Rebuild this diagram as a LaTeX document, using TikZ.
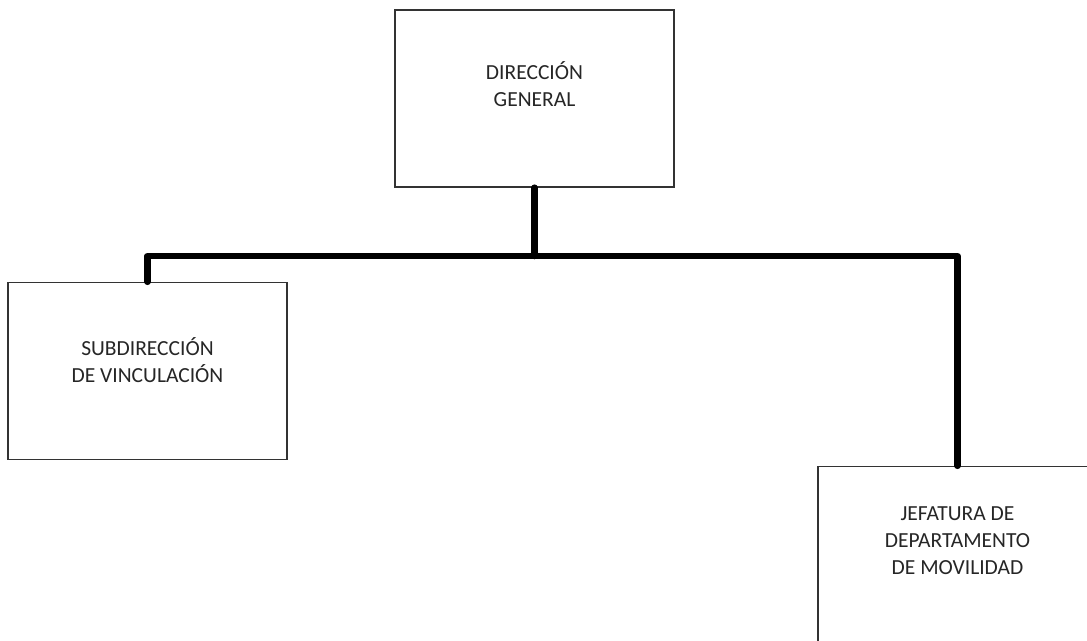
\documentclass[tikz,border=0pt]{standalone}
\usepackage{fontspec}
\setmainfont{Carlito}

\begin{document}
\begin{tikzpicture}[x=1pt, y=-1pt,
    box/.style={draw=black!80, line width=1.4pt, fill=white,
        minimum width=279pt, minimum height=177pt, inner sep=0pt},
    lbl/.style={align=center, text=black!85,
        font=\fontsize{21.5pt}{27pt}\selectfont},
    conn/.style={line width=6.5pt, line join=round, line cap=round}]
    \useasboundingbox (0, 0) rectangle (1087, 640);
    \clip (0, 0) rectangle (1087, 640);
    \fill [white] (0, 0) rectangle (1087, 640);
    \node [box] (dir) at (534.5, 98.5) {};
    \node [box] (sub) at (147.5, 371) {};
    \node [box] (jef) at (957.5, 555) {};
    \node [lbl] (tdir) at ([yshift=14pt]dir.center) {DIRECCIÓN\\GENERAL};
    \node [lbl] (tsub) at ([yshift=11pt]sub.center) {SUBDIRECCIÓN\\DE VINCULACIÓN};
    \node [lbl] (tjef) at ([yshift=14pt]jef.center) {JEFATURA DE\\DEPARTAMENTO\\DE MOVILIDAD};
    \coordinate (bus) at (534.5, 256);
    \draw [conn] (dir.south) -- (bus);
    \draw [conn] (sub.north) |- (bus) -| (jef.north);
\end{tikzpicture}
\end{document}
